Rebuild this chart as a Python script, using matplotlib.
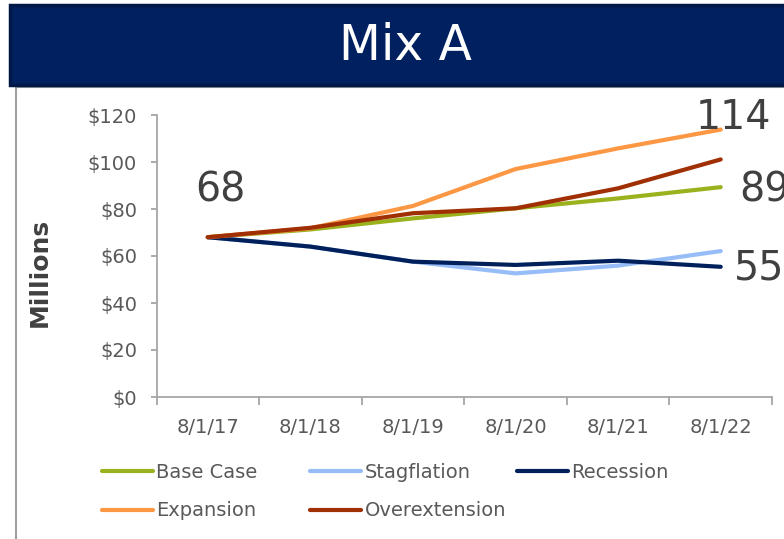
#!/usr/bin/env python3
"""Mix A scenario projections, redrawn with matplotlib."""
import matplotlib

matplotlib.use("Agg")
import matplotlib.pyplot as plt
from matplotlib.lines import Line2D
from matplotlib.patches import Rectangle
from matplotlib.ticker import FuncFormatter, FixedLocator

DATES = ["8/1/17", "8/1/18", "8/1/19", "8/1/20", "8/1/21", "8/1/22"]

base_case = [68, 71.3, 76.0, 80.3, 84.5, 89.3]
stagflation = [68, 64.0, 57.6, 52.6, 55.9, 62.1]
recession = [68, 64.0, 57.6, 56.2, 58.0, 55.4]
expansion = [68, 71.8, 81.3, 97.0, 105.8, 113.8]
overextension = [68, 72.0, 78.2, 80.3, 88.8, 101.1]

SERIES = [
    ("Base Case", base_case, "#9BB11E"),
    ("Stagflation", stagflation, "#97BDF8"),
    ("Recession", recession, "#00205C"),
    ("Expansion", expansion, "#FC9744"),
    ("Overextension", overextension, "#A02F03"),
]

TEXT_GRAY = "#595959"
AXIS_GRAY = "#A6A6A6"
LABEL_GRAY = "#404040"

W, H = 784, 539


def fx(px):
    return px / W


def fy(py):
    return 1 - py / H


fig = plt.figure(figsize=(W / 100, H / 100), dpi=100)

# panel behind the chart and the title banner
fig.patches.append(Rectangle((fx(16), fy(H + 5)), fx(W), fy(87) - fy(H + 5),
                             transform=fig.transFigure, facecolor="white",
                             edgecolor="#A0A0A0", lw=1.5, zorder=0))
fig.patches.append(Rectangle((fx(10), fy(85)), fx(W), fy(5) - fy(85),
                             transform=fig.transFigure, facecolor="#002060",
                             edgecolor="#001848", lw=2.5, zorder=1))
fig.text(fx(405), fy(46), "Mix A", color="white", fontsize=35,
         ha="center", va="center", zorder=3)

ax = fig.add_axes([fx(156.5), fy(397), fx(772) - fx(156.5), fy(115) - fy(397)])
ax.set_zorder(2)
ax.patch.set_alpha(0)

x = list(range(len(DATES)))
handles = {}
for name, values, color in SERIES:
    (ln,) = ax.plot(x, values, color=color, lw=3, solid_capstyle="round",
                    label=name, zorder=3)
    handles[name] = ln

ax.set_xlim(-0.5, len(DATES) - 0.5)
ax.set_ylim(0, 120)
ax.set_yticks(range(0, 121, 20))
ax.yaxis.set_major_formatter(FuncFormatter(lambda v, _: f"${v:.0f}"))
ax.set_xticks(x)
ax.set_xticklabels(DATES)
ax.xaxis.set_minor_locator(FixedLocator([i - 0.5 for i in range(len(DATES) + 1)]))

for side in ("top", "right"):
    ax.spines[side].set_visible(False)
for side in ("left", "bottom"):
    ax.spines[side].set_color(AXIS_GRAY)
    ax.spines[side].set_linewidth(1.3)

ax.tick_params(axis="y", length=4, width=1.3, color=AXIS_GRAY, pad=10,
               labelsize=14, labelcolor=TEXT_GRAY)
ax.tick_params(axis="x", which="major", length=0, pad=15,
               labelsize=14, labelcolor=TEXT_GRAY)
ax.tick_params(axis="x", which="minor", length=5.5, width=1.3, color=AXIS_GRAY)

ax.set_ylabel("Millions", fontsize=18, fontweight="bold", color=LABEL_GRAY)
ax.yaxis.set_label_coords(-0.17, 0.44)

# data labels
label_kw = dict(textcoords="offset pixels", fontsize=28.5, color=LABEL_GRAY,
                va="center", annotation_clip=False)
ax.annotate(f"{base_case[0]:.0f}", (0, base_case[0]), xytext=(13, 47),
            ha="center", **label_kw)
ax.annotate(f"{expansion[-1]:.0f}", (5, expansion[-1]), xytext=(-25, 12),
            ha="left", **label_kw)
ax.annotate(f"{base_case[-1]:.0f}", (5, base_case[-1]), xytext=(19, -3),
            ha="left", **label_kw)
ax.annotate(f"{recession[-1]:.0f}", (5, recession[-1]), xytext=(13, -2),
            ha="left", **label_kw)

# legend laid out on Excel's grid: three columns, two rows
legend_grid = {
    "Base Case": (102, 472), "Stagflation": (310, 472), "Recession": (517, 472),
    "Expansion": (102, 511), "Overextension": (310, 511),
}
for name, (lx, ly) in legend_grid.items():
    ln = handles[name]
    h = Line2D([], [], color=ln.get_color(), lw=3, solid_capstyle="round")
    fig.legend([h], [name], loc="center left", bbox_to_anchor=(fx(lx), fy(ly)),
               frameon=False, fontsize=14, labelcolor=TEXT_GRAY,
               handlelength=2.6, handletextpad=0.2, borderpad=0,
               borderaxespad=0)

fig.savefig("out.png", dpi=100)
